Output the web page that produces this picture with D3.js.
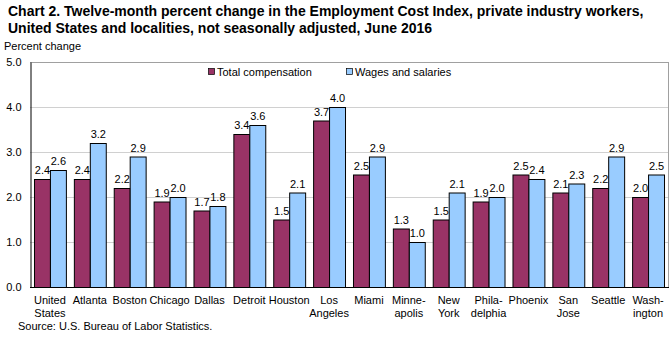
<!DOCTYPE html>
<html>
<head>
<meta charset="utf-8">
<script src="https://cdn.jsdelivr.net/npm/d3@7"></script>
<style>
  body { margin: 0; background: #fff; }
  text { font-family: "Liberation Sans", Arial, sans-serif; fill: #000; }
</style>
</head>
<body>
<svg id="chart"></svg>
<script>
// data
var cities = ['United States', 'Atlanta', 'Boston', 'Chicago', 'Dallas', 'Detroit', 'Houston', 'Los Angeles',
              'Miami', 'Minneapolis', 'New York', 'Philadelphia', 'Phoenix', 'San Jose', 'Seattle', 'Washington'];
var cityLabels = [['United', 'States'], ['Atlanta'], ['Boston'], ['Chicago'], ['Dallas'], ['Detroit'], ['Houston'],
                  ['Los', 'Angeles'], ['Miami'], ['Minne-', 'apolis'], ['New', 'York'], ['Phila-', 'delphia'],
                  ['Phoenix'], ['San', 'Jose'], ['Seattle'], ['Wash-', 'ington']];
var totalComp = [2.4, 2.4, 2.2, 1.9, 1.7, 3.4, 1.5, 3.7, 2.5, 1.3, 1.5, 1.9, 2.5, 2.1, 2.2, 2.0];
var wages     = [2.6, 3.2, 2.9, 2.0, 1.8, 3.6, 2.1, 4.0, 2.9, 1.0, 2.1, 2.0, 2.4, 2.3, 2.9, 2.5];
var seriesNames = ['Total compensation', 'Wages and salaries'];
var yTicks = [0, 1, 2, 3, 4, 5];

var width = 672;
var height = 337;
var plotLeft = 30, plotRight = 668, plotTop = 62, plotBottom = 287;
var colors = ['#993366', '#99ccff'];

var svg = d3.select('#chart')
    .attr('width', width)
    .attr('height', height);

var x = d3.scaleBand()
    .domain(cities)
    .range([plotLeft, plotRight])
    .paddingInner(0.2)
    .paddingOuter(0.1);

var xInner = d3.scaleBand()
    .domain(seriesNames)
    .range([0, x.bandwidth()]);

var y = d3.scaleLinear()
    .domain([0, 5])
    .range([plotBottom, plotTop]);

// gridlines
svg.append('g')
  .selectAll('line')
  .data(yTicks.slice(1))
  .enter()
  .append('line')
    .attr('x1', plotLeft)
    .attr('x2', plotRight)
    .attr('y1', d => y(d) + 0.5)
    .attr('y2', d => y(d) + 0.5)
    .attr('stroke', d => d === 5 ? '#a0a0a0' : '#d0d0d0');

// right border
svg.append('line')
    .attr('x1', plotRight + 0.5).attr('x2', plotRight + 0.5)
    .attr('y1', plotTop).attr('y2', plotBottom)
    .attr('stroke', '#a0a0a0');

// y axis
var yAxis = d3.axisLeft(y)
    .tickValues(yTicks)
    .tickFormat(d3.format('.1f'))
    .tickSize(0)
    .tickPadding(9);

var gy = svg.append('g')
    .attr('transform', 'translate(' + (plotLeft + 0.5) + ',0)')
    .call(yAxis);
gy.select('.domain').attr('stroke', '#000');
gy.selectAll('text')
    .style('font-size', '11px')
    .style('font-family', '"Liberation Sans", Arial, sans-serif');

// bars
var series = [totalComp, wages];
var groups = svg.append('g')
  .selectAll('g')
  .data(cities)
  .enter()
  .append('g')
    .attr('transform', d => 'translate(' + x(d) + ',0)');

groups.selectAll('rect')
  .data((d, i) => series.map((s, j) => ({ name: seriesNames[j], value: s[i], k: j })))
  .enter()
  .append('rect')
    .attr('x', d => xInner(d.name) + 0.5)
    .attr('y', d => y(d.value) + 0.5)
    .attr('width', xInner.bandwidth())
    .attr('height', d => y(0) - y(d.value))
    .attr('fill', d => colors[d.k])
    .attr('stroke', '#000')
    .attr('stroke-width', 1);

groups.selectAll('text.val')
  .data((d, i) => series.map((s, j) => ({ name: seriesNames[j], value: s[i] })))
  .enter()
  .append('text')
    .attr('class', 'val')
    .attr('x', d => xInner(d.name) + xInner.bandwidth() / 2 + 0.5)
    .attr('y', d => y(d.value) - 5)
    .style('text-anchor', 'middle')
    .style('font-size', '11px')
    .text(d => d.value.toFixed(1));

// x axis line
svg.append('line')
    .attr('x1', plotLeft).attr('x2', plotRight + 1)
    .attr('y1', plotBottom + 0.5).attr('y2', plotBottom + 0.5)
    .attr('stroke', '#000');

// category labels
svg.append('g')
  .selectAll('text')
  .data(cities)
  .enter()
  .append('text')
    .attr('x', d => x(d) + x.bandwidth() / 2)
    .attr('y', 304)
    .style('text-anchor', 'middle')
    .style('font-size', '11px')
    .each(function(d, i) {
      d3.select(this).selectAll('tspan')
        .data(cityLabels[i])
        .enter()
        .append('tspan')
          .attr('x', x(d) + x.bandwidth() / 2)
          .attr('dy', (t, k) => k === 0 ? 0 : 13)
          .text(t => t);
    });

// legend
var legendX = [208, 346];
var legend = svg.append('g')
  .selectAll('g')
  .data(seriesNames)
  .enter()
  .append('g')
    .attr('transform', (d, i) => 'translate(' + legendX[i] + ',68)');
legend.append('rect')
    .attr('x', 0.5).attr('y', 0.5)
    .attr('width', 6).attr('height', 6)
    .attr('fill', (d, i) => colors[i])
    .attr('stroke', '#000')
    .attr('stroke-width', 0.7);
legend.append('text')
    .attr('x', 9)
    .attr('y', 8)
    .style('font-size', '11px')
    .text(d => d);

// titles
svg.append('text')
    .attr('x', 8)
    .attr('y', 16)
    .style('font-size', '14px')
    .style('font-weight', 'bold')
    .text('Chart 2. Twelve-month percent change in the Employment Cost Index, private industry workers,');
svg.append('text')
    .attr('x', 8)
    .attr('y', 33)
    .style('font-size', '14px')
    .style('font-weight', 'bold')
    .text('United States and localities, not seasonally adjusted, June 2016');

svg.append('text')
    .attr('x', 4)
    .attr('y', 50)
    .style('font-size', '11px')
    .text('Percent change');

svg.append('text')
    .attr('x', 18)
    .attr('y', 330)
    .style('font-size', '11px')
    .text('Source: U.S. Bureau of Labor Statistics.');
</script>
</body>
</html>
